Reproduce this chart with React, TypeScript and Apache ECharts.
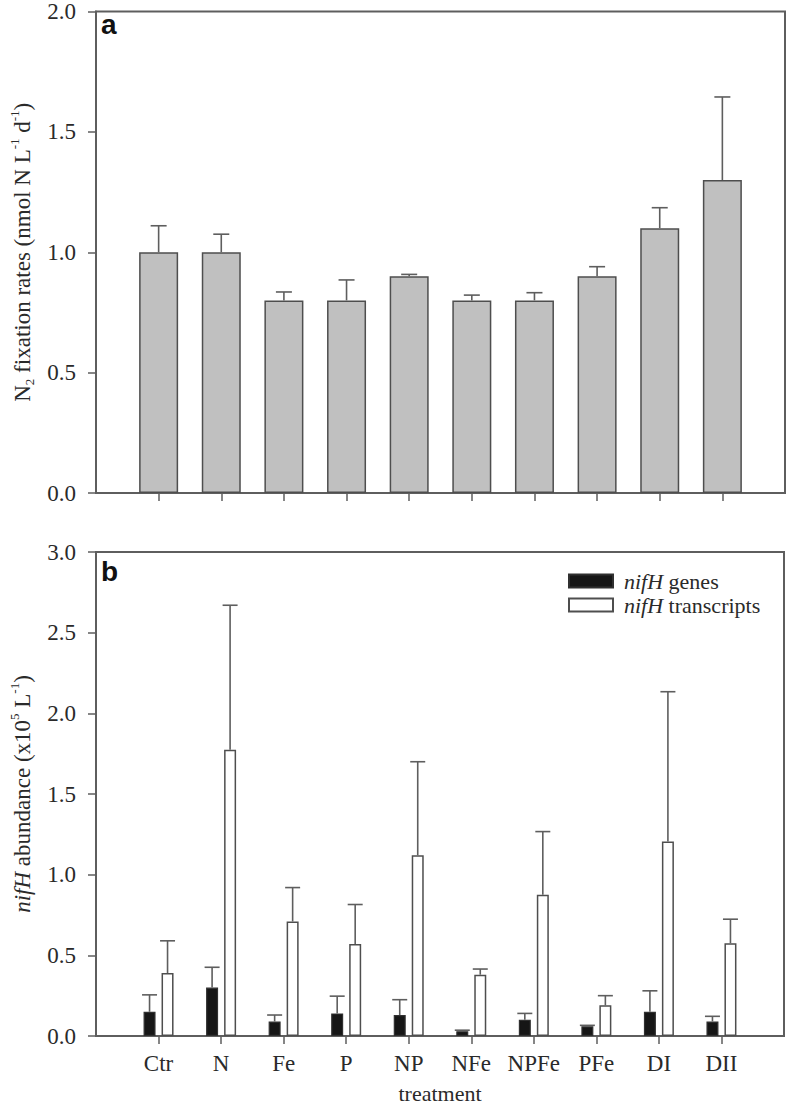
import React, { useEffect, useRef } from 'react';
import * as echarts from 'echarts';

const categories = ['Ctr', 'N', 'Fe', 'P', 'NP', 'NFe', 'NPFe', 'PFe', 'DI', 'DII'];
// panel a: N2 fixation rates
const rateMean = [1.0, 1.0, 0.8, 0.8, 0.9, 0.8, 0.8, 0.9, 1.1, 1.3];
const rateErr = [0.11, 0.075, 0.035, 0.085, 0.008, 0.022, 0.032, 0.04, 0.085, 0.345];
// panel b: nifH abundance
const geneMean = [0.15, 0.3, 0.09, 0.14, 0.13, 0.03, 0.1, 0.06, 0.15, 0.09];
const geneErr = [0.105, 0.126, 0.04, 0.107, 0.095, 0.006, 0.04, 0.006, 0.13, 0.032];
const transMean = [0.39, 1.775, 0.71, 0.57, 1.12, 0.38, 0.875, 0.19, 1.205, 0.575];
const transErr = [0.2, 0.895, 0.21, 0.245, 0.58, 0.035, 0.392, 0.06, 0.929, 0.149];

const axisCats = [' ', ...categories, '  '];

const SERIF = "'Times New Roman', 'Liberation Serif', serif";
const SANS = "Arial, 'Liberation Sans', sans-serif";
const LINE = '#5e5e5e';
const TEXT = '#2a2a2a';

const errorRender = (offset: number, cap: number) => (params: any, api: any) => {
  const xi = api.value(0);
  const m = api.value(1);
  const e = api.value(2);
  const p0 = api.coord([xi, m]);
  const p1 = api.coord([xi, m + e]);
  const x = p0[0] + offset;
  const style = { stroke: LINE, lineWidth: 1.6 };
  return {
    type: 'group',
    children: [
      { type: 'line', shape: { x1: x, y1: p0[1], x2: x, y2: p1[1] }, style },
      { type: 'line', shape: { x1: x - cap / 2, y1: p1[1], x2: x + cap / 2, y2: p1[1] }, style },
    ],
  };
};

const xAxisBase = (gridIndex: number, showLabels: boolean) => ({
  type: 'category',
  gridIndex,
  data: axisCats,
  boundaryGap: false,
  axisLine: { show: true, lineStyle: { color: LINE, width: 2 } },
  axisTick: {
    show: true,
    length: 8,
    interval: (index: number) => index > 0 && index < axisCats.length - 1,
    lineStyle: { color: LINE, width: 1.5 },
  },
  axisLabel: {
    show: showLabels,
    interval: 0,
    margin: 16,
    fontFamily: SERIF,
    fontSize: 23,
    color: TEXT,
    formatter: (v: string) => v.trim(),
  },
  splitLine: { show: false },
});

const yAxisBase = (gridIndex: number, max: number, name: string, rich: any) => ({
  type: 'value',
  gridIndex,
  min: 0,
  max,
  interval: 0.5,
  axisLine: { show: true, lineStyle: { color: LINE, width: 2 } },
  axisTick: { show: true, length: 8, lineStyle: { color: LINE, width: 1.5 } },
  axisLabel: {
    margin: 20,
    fontFamily: SERIF,
    fontSize: 23,
    color: TEXT,
    formatter: (v: number) => v.toFixed(1),
  },
  splitLine: { show: false },
  name,
  nameLocation: 'middle',
  nameRotate: 90,
  nameGap: 60,
  nameTextStyle: { fontFamily: SERIF, fontSize: 23, color: TEXT, rich },
});

const titleRich = {
  n: { fontFamily: SERIF, fontSize: 23, lineHeight: 28, color: TEXT },
  it: { fontFamily: SERIF, fontSize: 23, lineHeight: 28, fontStyle: 'italic', color: TEXT },
  sub: { fontFamily: SERIF, fontSize: 13, lineHeight: 28, verticalAlign: 'bottom', color: TEXT },
  sup: { fontFamily: SERIF, fontSize: 13, lineHeight: 28, verticalAlign: 'top', color: TEXT },
};

export default function App() {
  const ref = useRef<HTMLDivElement>(null);
  useEffect(() => {
    document.body.style.margin = '0';
    const chart = echarts.init(ref.current!, null, { renderer: 'svg' });
    const option: any = {
      animation: false,
      backgroundColor: '#ffffff',
      grid: [
        { left: 93, top: 6, width: 692, height: 487, show: true, borderColor: LINE, borderWidth: 2, containLabel: false },
        { left: 93, top: 552, width: 692, height: 486, show: true, borderColor: LINE, borderWidth: 2, containLabel: false },
      ],
      xAxis: [
        xAxisBase(0, false),
        {
          ...xAxisBase(1, true),
          name: 'treatment',
          nameLocation: 'middle',
          nameGap: 45,
          nameTextStyle: { fontFamily: SERIF, fontSize: 22, color: TEXT, lineHeight: 24 },
        },
      ],
      yAxis: [
        yAxisBase(0, 2, '{n|N}{sub|2}{n| fixation rates (nmol N L}{sup|-1}{n| d}{sup|-1}{n|)}', titleRich),
        yAxisBase(1, 3, '{it|nifH}{n| abundance (x10}{sup|5}{n| L}{sup|-1}{n|)}', titleRich),
      ],
      legend: {
        orient: 'vertical',
        left: 568,
        top: 570,
        itemWidth: 44,
        itemHeight: 13,
        itemGap: 2,
        padding: 0,
        icon: 'rect',
        data: ['nifH genes', 'nifH transcripts'],
        formatter: (name: string) => '{i|nifH}{t|' + name.slice(4) + '}',
        textStyle: {
          fontFamily: SERIF,
          fontSize: 22,
          color: TEXT,
          padding: [0, 0, 0, 6],
          rich: {
            i: { fontFamily: SERIF, fontSize: 22, fontStyle: 'italic', lineHeight: 23, color: TEXT },
            t: { fontFamily: SERIF, fontSize: 22, lineHeight: 23, color: TEXT },
          },
        },
      },
      graphic: [
        { type: 'text', left: 101, top: 10, style: { text: 'a', font: `bold 28px ${SANS}`, fill: '#111' } },
        { type: 'text', left: 101, top: 557, style: { text: 'b', font: `bold 28px ${SANS}`, fill: '#111' } },
      ],
      series: [
        {
          name: 'rate',
          type: 'bar',
          xAxisIndex: 0,
          yAxisIndex: 0,
          barWidth: 39,
          data: categories.map((c, i) => [c, rateMean[i]]),
          itemStyle: { color: '#c0c0c0', borderColor: '#4e4e4e', borderWidth: 1.5 },
        },
        {
          name: 'rateErr',
          type: 'custom',
          xAxisIndex: 0,
          yAxisIndex: 0,
          renderItem: errorRender(0, 16),
          encode: { x: 0, y: 1 },
          data: categories.map((c, i) => [c, rateMean[i], rateErr[i]]),
          z: 5,
        },
        {
          name: 'nifH genes',
          type: 'bar',
          xAxisIndex: 1,
          yAxisIndex: 1,
          barWidth: 12,
          barGap: '50%',
          data: categories.map((c, i) => [c, geneMean[i]]),
          itemStyle: { color: '#161616', borderColor: '#303030', borderWidth: 1.2 },
        },
        {
          name: 'nifH transcripts',
          type: 'bar',
          xAxisIndex: 1,
          yAxisIndex: 1,
          barWidth: 12,
          barGap: '50%',
          data: categories.map((c, i) => [c, transMean[i]]),
          itemStyle: { color: '#ffffff', borderColor: '#4e4e4e', borderWidth: 1.5 },
        },
        {
          name: 'geneErr',
          type: 'custom',
          xAxisIndex: 1,
          yAxisIndex: 1,
          renderItem: errorRender(-9, 15),
          encode: { x: 0, y: 1 },
          data: categories.map((c, i) => [c, geneMean[i], geneErr[i]]),
          z: 5,
        },
        {
          name: 'transErr',
          type: 'custom',
          xAxisIndex: 1,
          yAxisIndex: 1,
          renderItem: errorRender(9, 15),
          encode: { x: 0, y: 1 },
          data: categories.map((c, i) => [c, transMean[i], transErr[i]]),
          z: 5,
        },
      ],
    };
    chart.setOption(option);
    return () => chart.dispose();
  }, []);
  return <div ref={ref} style={{ width: 787, height: 1106 }} />;
}
